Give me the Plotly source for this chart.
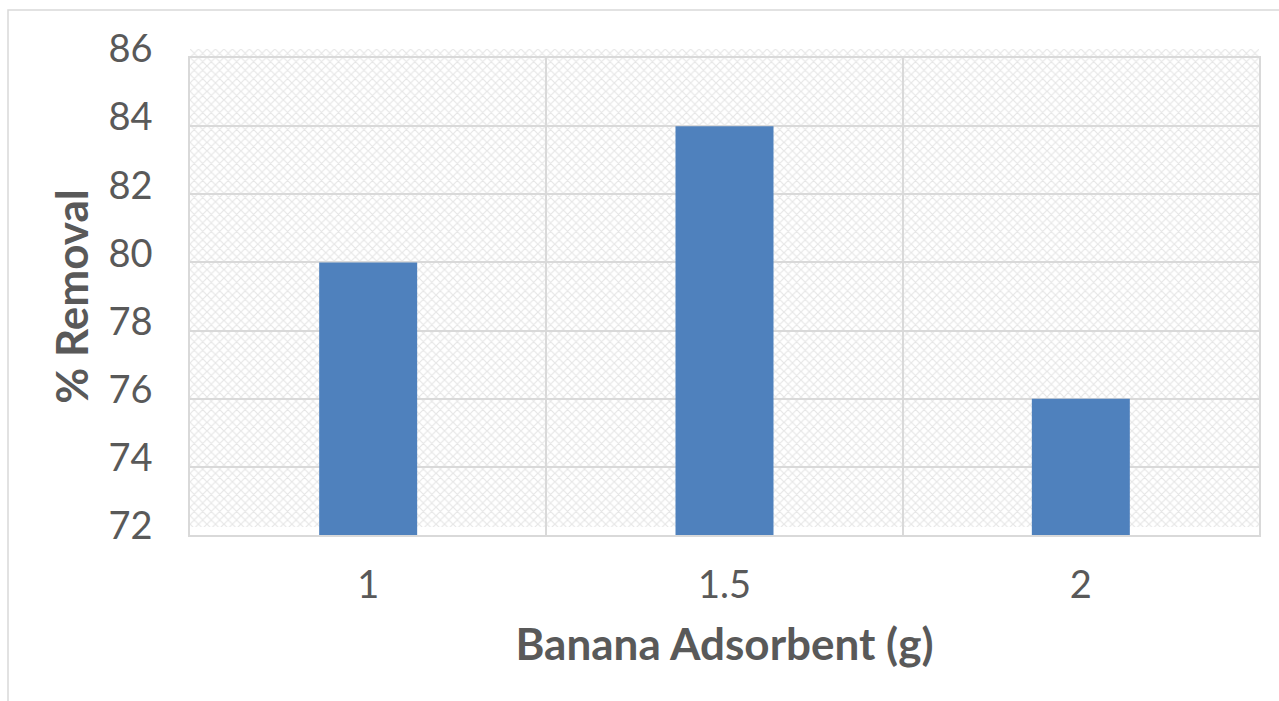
import plotly.graph_objects as go

# Adsorbent dose (g) and dye removal (%)
doses = ["1", "1.5", "2"]
removal = [80, 84, 76]
y_ticks = [72, 74, 76, 78, 80, 82, 84, 86]

W, H = 1279, 701
M_L, M_R, M_T, M_B = 190, 20, 49, 166
plot_w = W - M_L - M_R
plot_h = H - M_T - M_B  # 486
grid_col = "#d9d9d9"
text_col = "#595959"
font_fam = "Lato, 'Open Sans', sans-serif"

fig = go.Figure()

# Textured plot-area background on its own hidden axes
fig.add_trace(go.Bar(
    x=[0.5], y=[1], base=[0], width=[1],
    xaxis="x", yaxis="y",
    marker=dict(color="rgba(0,0,0,0)", line=dict(width=0),
                pattern=dict(shape="x", fgcolor="#cccccc", bgcolor="rgba(0,0,0,0)",
                             size=6, solidity=0.35, fillmode="overlay")),
    hoverinfo="skip", showlegend=False,
))

# Removal bars
fig.add_trace(go.Bar(
    x=list(range(len(doses))), y=[v - 72 for v in removal], base=72,
    xaxis="x2", yaxis="y2",
    width=0.275,
    marker=dict(color="#4f81bd", line=dict(width=0)),
    customdata=removal, hovertemplate="%{customdata}<extra></extra>",
    showlegend=False,
))

fig.update_layout(
    width=W, height=H,
    margin=dict(l=M_L, r=M_R, t=M_T, b=M_B),
    paper_bgcolor="white", plot_bgcolor="rgba(0,0,0,0)",
    font=dict(family=font_fam, color=text_col),
    xaxis=dict(domain=[0, 1], range=[0, 1], visible=False, fixedrange=True),
    yaxis=dict(domain=[8 / plot_h, 1], range=[0, 1], visible=False, fixedrange=True),
    xaxis2=dict(
        domain=[0, 1], anchor="y2", range=[-0.5, 2.5],
        tickvals=list(range(len(doses))), ticktext=doses,
        showgrid=False, zeroline=False,
        showline=True, linecolor=grid_col, linewidth=1.5, mirror=True,
        ticks="", tickfont=dict(size=38, color=text_col),
        ticklabelstandoff=16,
        minor=dict(tickvals=[-0.5, 0.5, 1.5, 2.5], showgrid=True,
                   gridcolor=grid_col, gridwidth=1.5, ticks=""),
        title=dict(text="<b>Banana Adsorbent (g)</b>", font=dict(size=44, color=text_col),
                   standoff=24),
    ),
    yaxis2=dict(
        domain=[0, 1 - 9 / plot_h], anchor="x2", range=[72, 86],
        tickvals=y_ticks, showgrid=True, gridcolor=grid_col, gridwidth=1.5,
        zeroline=False, showline=True, linecolor=grid_col, linewidth=1.5, mirror=True,
        ticks="", tickfont=dict(size=38, color=text_col),
        ticklabelstandoff=28, ticklabelshift=-9,
        title=dict(text="<b>% Removal</b>", font=dict(size=44, color=text_col),
                   standoff=6),
    ),
    # Outer chart frame, positioned in pixel terms
    shapes=[dict(type="rect", xref="paper", yref="paper",
                 x0=(8 - M_L) / plot_w, x1=(W + 20 - M_L) / plot_w,
                 y0=((H - M_B) - (H + 20)) / plot_h, y1=((H - M_B) - 10) / plot_h,
                 line=dict(color=grid_col, width=1.5), layer="below")],
)

fig.write_html("out.html")
